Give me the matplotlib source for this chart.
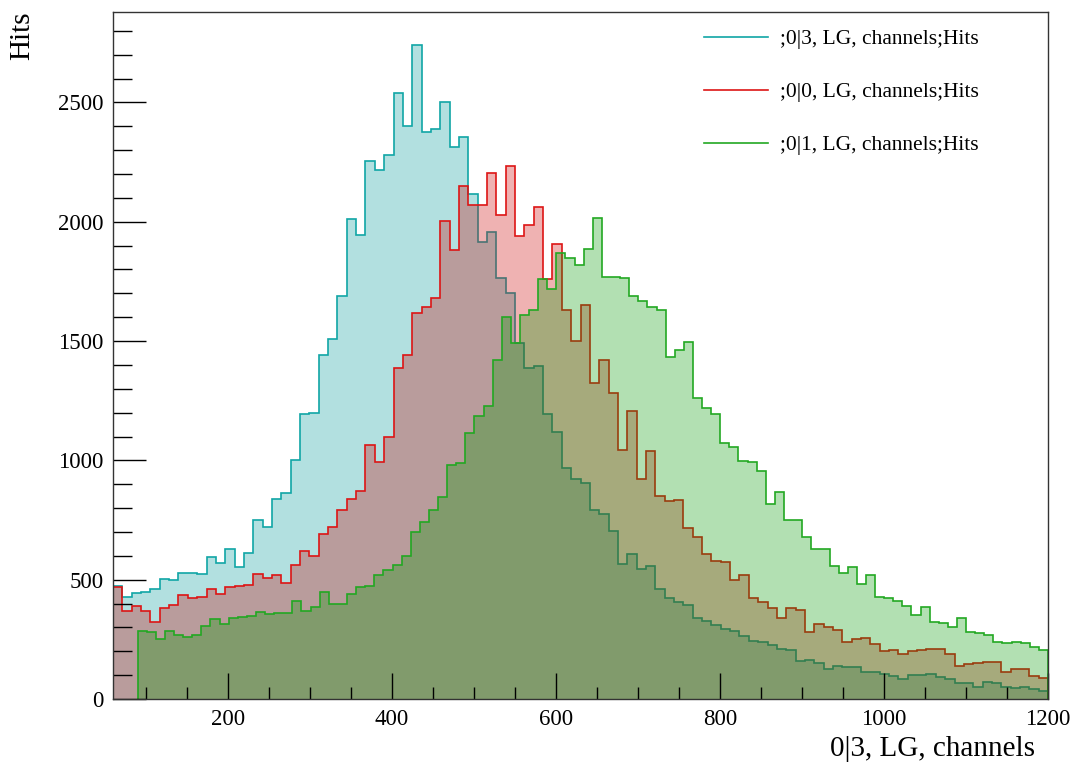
import numpy as np
import matplotlib
matplotlib.use("Agg")
import matplotlib.pyplot as plt
from matplotlib.lines import Line2D
from matplotlib.ticker import MultipleLocator

# Histogram binning (channels)
bins_03_00 = (60.0, 1200.0, 100)   # range and bin count for 0|3 and 0|0
bins_01 = (90.0, 1200.0, 100)      # range and bin count for 0|1

hits_03 = [
    473, 428, 445, 449, 459, 503, 498, 529, 526, 523,
    595, 571, 630, 554, 610, 750, 720, 840, 865, 1000,
    1195, 1200, 1440, 1510, 1688, 2013, 1946, 2254, 2217, 2281,
    2541, 2400, 2742, 2378, 2389, 2502, 2313, 2356, 2115, 1915,
    1957, 1765, 1702, 1490, 1389, 1395, 1193, 1117, 970, 924,
    906, 794, 777, 702, 566, 606, 543, 558, 461, 422,
    405, 395, 340, 325, 310, 295, 285, 265, 245, 240,
    225, 210, 205, 160, 163, 149, 127, 140, 133, 133,
    113, 113, 104, 97, 83, 99, 99, 105, 91, 83,
    66, 68, 49, 70, 66, 49, 46, 49, 40, 35,
]

hits_00 = [
    468, 369, 391, 368, 324, 380, 396, 435, 424, 429,
    459, 442, 470, 473, 476, 523, 508, 519, 485, 561,
    620, 600, 690, 720, 790, 840, 872, 1066, 994, 1097,
    1389, 1441, 1619, 1644, 1682, 2002, 1880, 2150, 2069, 2069,
    2206, 2027, 2235, 1939, 1985, 2062, 1762, 1908, 1629, 1499,
    1653, 1326, 1422, 1282, 1043, 1209, 920, 1041, 852, 829,
    835, 715, 680, 607, 578, 575, 498, 519, 424, 405,
    380, 341, 381, 371, 280, 313, 303, 289, 238, 250,
    257, 230, 201, 205, 190, 203, 205, 208, 211, 188,
    140, 145, 150, 154, 157, 114, 126, 126, 96, 86,
]

hits_01 = [
    286, 279, 251, 286, 268, 258, 270, 307, 334, 313,
    338, 344, 347, 366, 356, 359, 361, 412, 370, 387,
    447, 400, 398, 440, 470, 475, 520, 540, 560, 600,
    700, 740, 790, 847, 980, 990, 1115, 1188, 1226, 1420,
    1601, 1490, 1611, 1632, 1762, 1720, 1871, 1850, 1820, 1885,
    2017, 1769, 1769, 1766, 1689, 1669, 1643, 1629, 1433, 1464,
    1498, 1260, 1221, 1193, 1074, 1054, 997, 994, 955, 817,
    868, 750, 750, 678, 630, 627, 559, 529, 552, 480,
    518, 429, 422, 409, 390, 353, 384, 324, 320, 303,
    339, 280, 275, 269, 240, 236, 239, 236, 216, 205,
]

labels = [";0|3, LG, channels;Hits", ";0|0, LG, channels;Hits", ";0|1, LG, channels;Hits"]
x_title = "0|3, LG, channels"
y_title = "Hits"

line_colors = ["#10a6a6", "#dd1515", "#22a822"]
fill_colors = [(0, 0.6, 0.6, 0.3), (0.8, 0.0, 0.0, 0.3), (0.0, 0.6, 0.0, 0.3)]

plt.rcParams["font.family"] = ["Liberation Serif", "DejaVu Serif"]

fig = plt.figure(figsize=(10.70, 7.62), dpi=100)
W, H = 1070, 762
ax = fig.add_axes([113 / W, 1 - 699 / H, (1048 - 113) / W, (699 - 12) / H])

edges_a = np.linspace(*bins_03_00[:2], bins_03_00[2] + 1)
edges_b = np.linspace(*bins_01[:2], bins_01[2] + 1)

for vals, edges, lc, fc in zip([hits_03, hits_00, hits_01],
                               [edges_a, edges_a, edges_b],
                               line_colors, fill_colors):
    ax.stairs(vals, edges, baseline=0, fill=True, color=fc, linewidth=0)
    ax.stairs(vals, edges, baseline=0, fill=False, color=lc, linewidth=1.2)

ymax = max(max(hits_03), max(hits_00), max(hits_01)) * 1.05
ax.set_xlim(bins_03_00[0], bins_03_00[1])
ax.set_ylim(0, ymax)

ax.xaxis.set_major_locator(MultipleLocator(200))
ax.xaxis.set_minor_locator(MultipleLocator(50))
ax.yaxis.set_major_locator(MultipleLocator(500))
ax.yaxis.set_minor_locator(MultipleLocator(100))
ax.tick_params(axis="both", which="both", direction="in", colors="black",
               labelsize=16.5, top=False, right=False)
ax.tick_params(axis="x", which="major", length=19, width=1, pad=7)
ax.tick_params(axis="x", which="minor", length=9, width=1)
ax.tick_params(axis="y", which="major", length=24, width=1, pad=7)
ax.tick_params(axis="y", which="minor", length=14, width=1)
for s in ax.spines.values():
    s.set_linewidth(1.0)
    s.set_color("#333333")

fig.text(1035 / W, 1 - 756 / H, x_title, ha="right", va="baseline", fontsize=21)
fig.text(22 / W, 1 - 12 / H, y_title, ha="center", va="top", rotation=90, fontsize=21)

handles = [Line2D([], [], color=c, linewidth=1.2) for c in line_colors]
ax.legend(handles, labels, loc="upper left", bbox_to_anchor=((682 - 113) / (1048 - 113), 1.006),
          frameon=False, fontsize=15.5, handlelength=3.0, handletextpad=0.55,
          labelspacing=1.52, borderaxespad=0.6)

fig.savefig("out.png", dpi=100)
